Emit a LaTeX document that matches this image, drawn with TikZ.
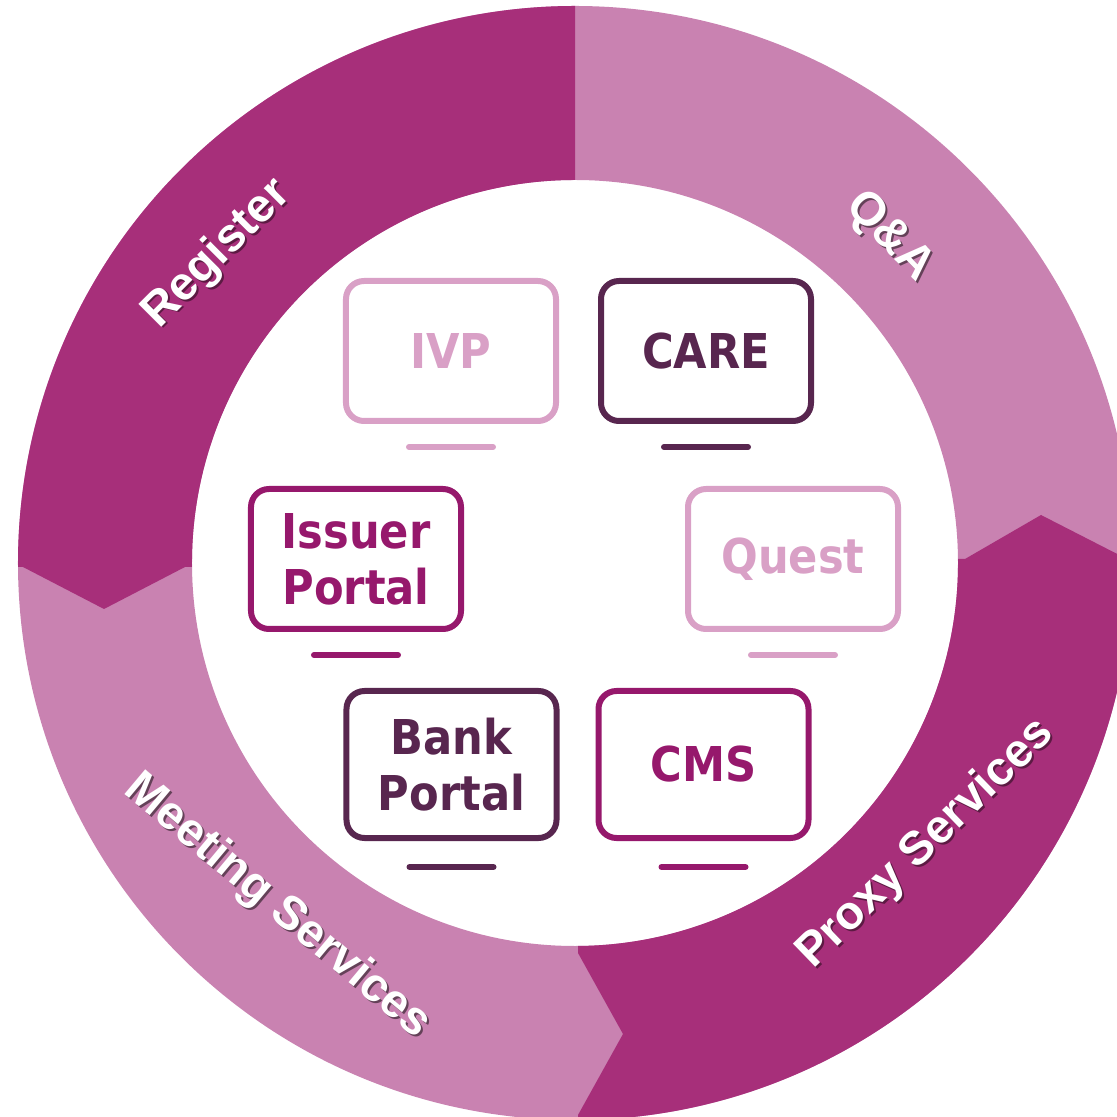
\documentclass[tikz,border=0pt]{standalone}
\usepackage{fontspec}
\newfontfamily\boxfont[FakeStretch=0.9]{DejaVu Sans Bold}
\newfontfamily\ringfont{Liberation Sans}
\definecolor{ringdark}{HTML}{A72F7A}
\definecolor{ringlight}{HTML}{C982B1}
\definecolor{pcpink}{HTML}{D9A0C6}
\definecolor{pcplum}{HTML}{58264F}
\definecolor{pcmagenta}{HTML}{96186C}
% white text with a drop shadow (colour, shift along, shift up, text)
\newcommand{\shadowed}[4]{\rlap{\kern#2\raisebox{#3}{\textcolor{#1}{#4}}}#4}

\begin{document}
\begin{tikzpicture}[x=0.5pt,y=0.5pt,
	screen/.style={draw=#1, text=#1, line width=3pt, rounded corners=9pt, minimum width=105pt, minimum height=70pt, align=center, inner sep=0pt, font=\boxfont\fontsize{24pt}{28pt}\selectfont},
	stand/.style={draw=#1, line width=3pt, line cap=round},
	ringlabel/.style={text=white, inner sep=0pt, font=\ringfont\bfseries\fontsize{23.5pt}{26pt}\selectfont}]
		\useasboundingbox (-575,-554) rectangle (542,563);

		% ring
		\fill [ringlight, even odd rule] (0,0) circle (557) (0,0) circle (383);
		\fill [ringdark] (0,383) -- (0,557) arc [start angle=90, end angle=180.4, radius=557]
			-- (-552,-4) -- (-471,-46) -- (-390,-4) -- (-383,-4)
			arc [start angle=180.6, end angle=90, radius=383] -- cycle;
		\fill [ringdark] (3,-383) -- (3,-390) -- (48,-471) -- (3,-552) -- (3,-557)
			arc [start angle=270.3, end angle=360.4, radius=557]
			-- (552,4) -- (466,48) -- (390,4) -- (383,4)
			arc [start angle=0.6, end angle=-89.55, radius=383] -- cycle;

		\node [ringlabel, rotate=45] (register) at (-357,308) {\shadowed{ringdark!55!black}{0pt}{-1.4pt}{Register}};
		\node [ringlabel, rotate=-46] (qa) at (314,326) {\shadowed{ringlight!50!black}{1.4pt}{0pt}{Q\&A}};
		\node [ringlabel, rotate=44] (proxy) at (352,-282) {\shadowed{ringdark!55!black}{0pt}{-1.4pt}{Proxy Services}};
		\node [ringlabel, rotate=-40] (meeting) at (-298,-344) {\shadowed{ringlight!50!black}{1.4pt}{-0.1pt}{Meeting Services}};

		% screens
		\node [screen=pcpink] (ivp) at (-124,212) {IVP};
		\node [screen=pcplum] (care) at (131,212) {CARE};
		\node [screen=pcmagenta] (issuer) at (-219,4) {Issuer\\Portal};
		\node [screen=pcpink] (quest) at (218,4) {Quest};
		\node [screen=pcplum, minimum height=73.5pt] (bank) at (-123.5,-201.5) {Bank\\Portal};
		\node [screen=pcmagenta, minimum height=73.5pt] (cms) at (128.5,-201.5) {CMS};

		\draw [stand=pcpink] ([xshift=-21pt,yshift=-11.5pt]ivp.south) to ([xshift=21pt,yshift=-11.5pt]ivp.south);
		\draw [stand=pcplum] ([xshift=-21pt,yshift=-11.5pt]care.south) to ([xshift=21pt,yshift=-11.5pt]care.south);
		\draw [stand=pcmagenta] ([xshift=-21pt,yshift=-11.5pt]issuer.south) to ([xshift=21pt,yshift=-11.5pt]issuer.south);
		\draw [stand=pcpink] ([xshift=-21pt,yshift=-11.5pt]quest.south) to ([xshift=21pt,yshift=-11.5pt]quest.south);
		\draw [stand=pcplum] ([xshift=-21pt,yshift=-13pt]bank.south) to ([xshift=21pt,yshift=-13pt]bank.south);
		\draw [stand=pcmagenta] ([xshift=-21pt,yshift=-13pt]cms.south) to ([xshift=21pt,yshift=-13pt]cms.south);
\end{tikzpicture}
\end{document}
